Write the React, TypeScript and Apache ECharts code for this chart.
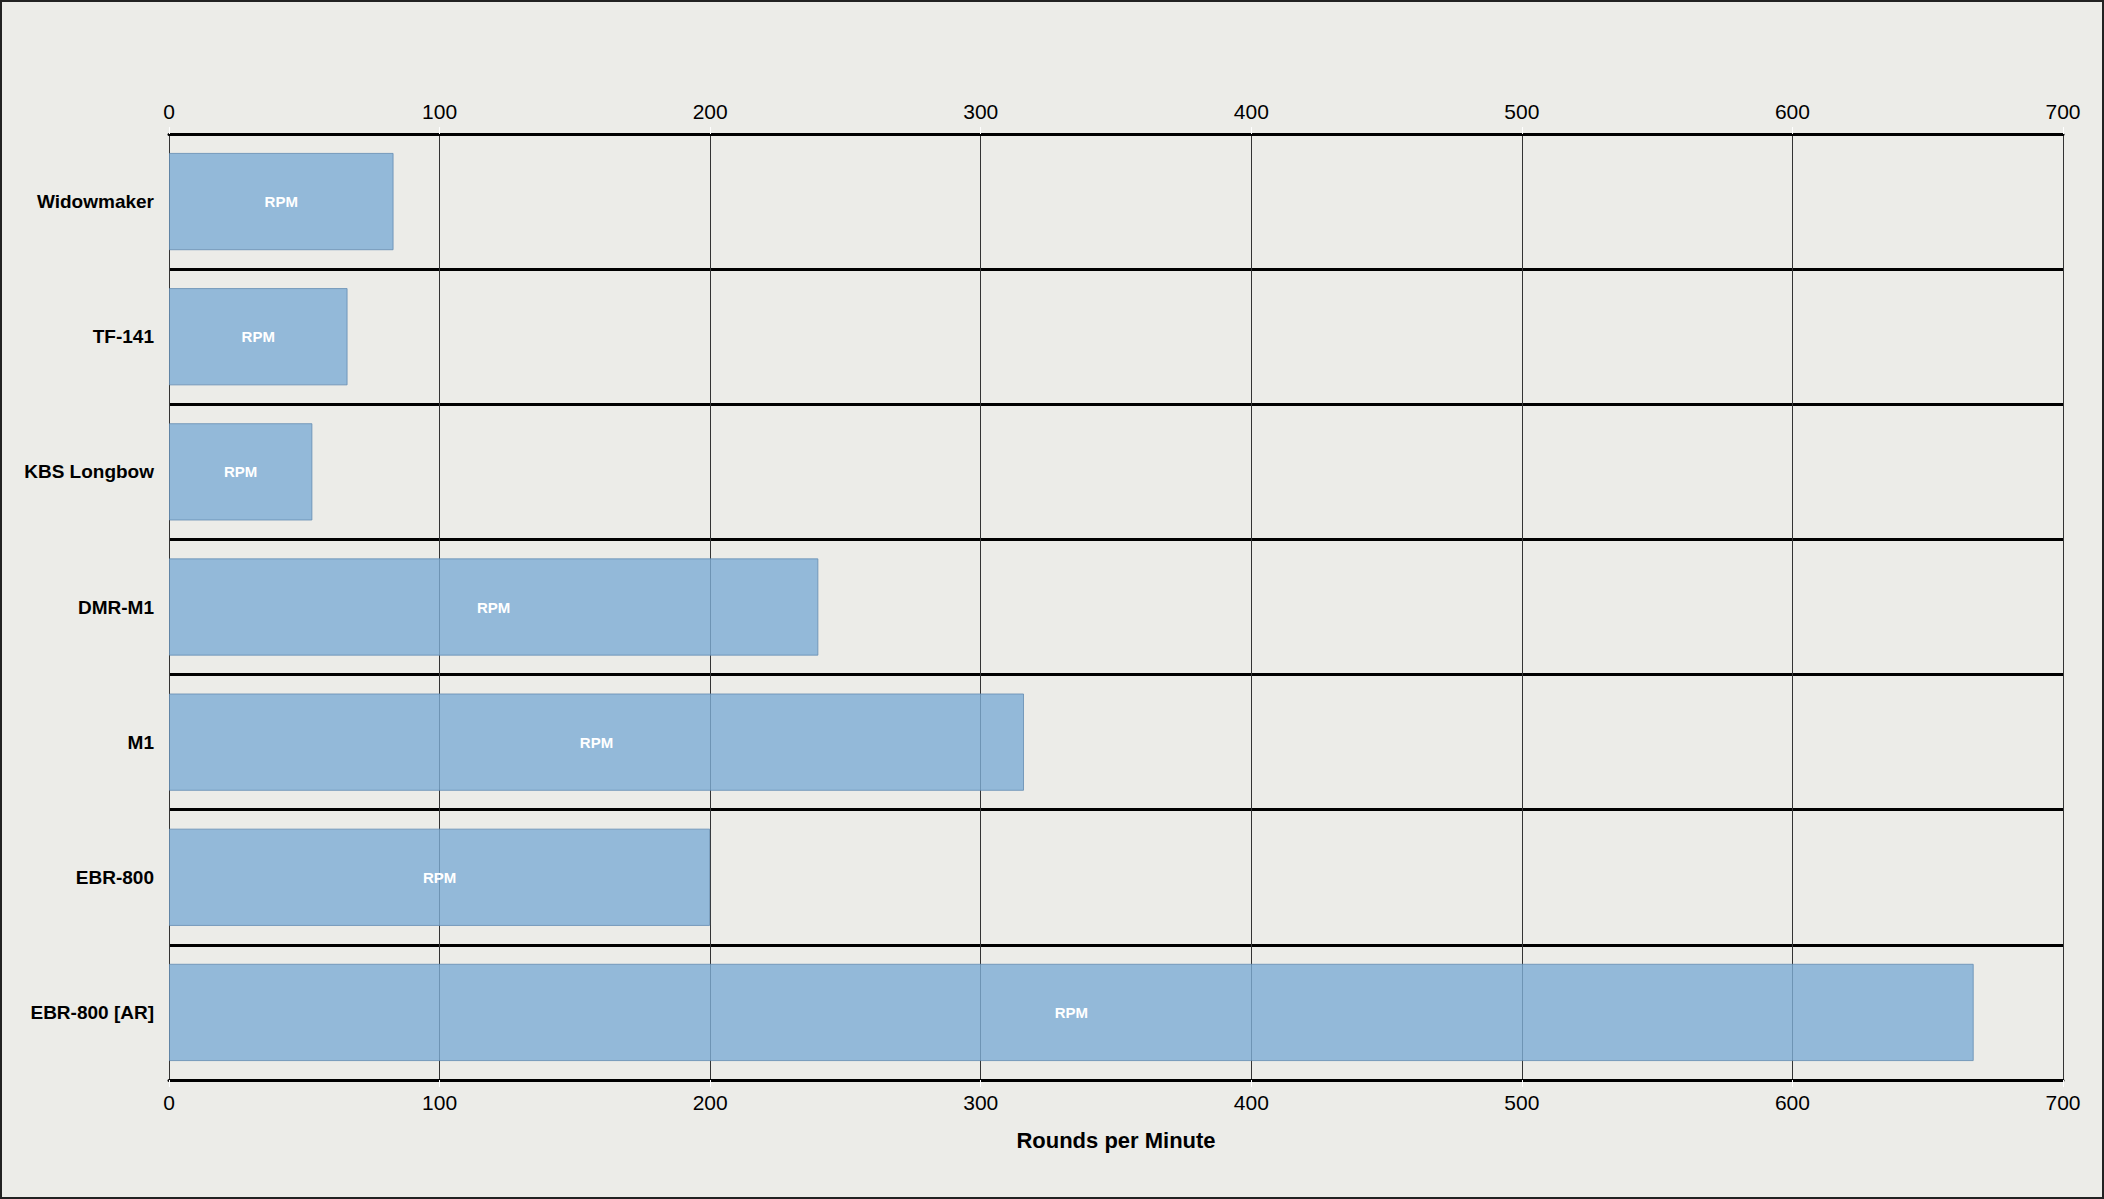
import React, { useEffect, useRef } from 'react';
import * as echarts from 'echarts';

const categories = ['Widowmaker', 'TF-141', 'KBS Longbow', 'DMR-M1', 'M1', 'EBR-800', 'EBR-800 [AR]'];
const rpmValues = [83, 66, 53, 240, 316, 200, 667];
const barLabel = 'RPM';
const axisName = 'Rounds per Minute';
const axisMin = 0;
const axisMax = 700;
const axisInterval = 100;

const FONT = 'Arial, "Liberation Sans", Helvetica, sans-serif';
const W = 2104;
const H = 1199;

export default function App() {
  const ref = useRef<HTMLDivElement>(null);
  useEffect(() => {
    document.body.style.margin = '0';
    if (!ref.current) return;
    const chart = echarts.init(ref.current, undefined, { renderer: 'svg' });
    const valueAxisCommon = {
      type: 'value',
      min: axisMin,
      max: axisMax,
      interval: axisInterval,
      axisLine: { show: true, lineStyle: { color: '#000', width: 3 } },
      axisTick: { show: true, length: 7, lineStyle: { color: '#ffffff', width: 1 } },
      axisLabel: { color: '#000', fontSize: 21, fontFamily: FONT, margin: 12 },
    };
    chart.setOption({
      animation: false,
      backgroundColor: '#ecece8',
      textStyle: { fontFamily: FONT },
      grid: { left: 169, right: 41, top: 134, bottom: 119, containLabel: false },
      xAxis: [
        {
          ...valueAxisCommon,
          position: 'top',
          splitLine: { show: true, lineStyle: { color: '#333', width: 1 } },
        },
        {
          ...valueAxisCommon,
          position: 'bottom',
          splitLine: { show: false },
          name: axisName,
          nameLocation: 'middle',
          nameGap: 49,
          nameTextStyle: { color: '#000', fontSize: 22, fontWeight: 'bold', fontFamily: FONT },
        },
      ],
      yAxis: {
        type: 'category',
        data: categories,
        inverse: true,
        axisLine: { show: false },
        axisTick: { show: false },
        axisLabel: { color: '#000', fontSize: 19, fontWeight: 'bold', fontFamily: FONT, margin: 15 },
        splitLine: { show: true, lineStyle: { color: '#000', width: 3 } },
      },
      series: [
        {
          type: 'bar',
          xAxisIndex: 1,
          data: rpmValues,
          barCategoryGap: '28%',
          itemStyle: {
            color: 'rgba(125,172,212,0.8)',
            borderColor: 'rgba(100,140,178,0.8)',
            borderWidth: 1,
          },
          label: {
            show: true,
            position: 'inside',
            formatter: barLabel,
            color: '#ffffff',
            fontSize: 15,
            fontWeight: 'bold',
            fontFamily: FONT,
          },
        },
      ],
      graphic: [
        {
          type: 'rect',
          shape: { x: 1, y: 1, width: W - 2, height: H - 2 },
          style: { fill: 'none', stroke: '#222', lineWidth: 2 },
          silent: true,
          z: 100,
        },
      ],
    });
    return () => chart.dispose();
  }, []);
  return <div ref={ref} style={{ width: W, height: H }} />;
}
